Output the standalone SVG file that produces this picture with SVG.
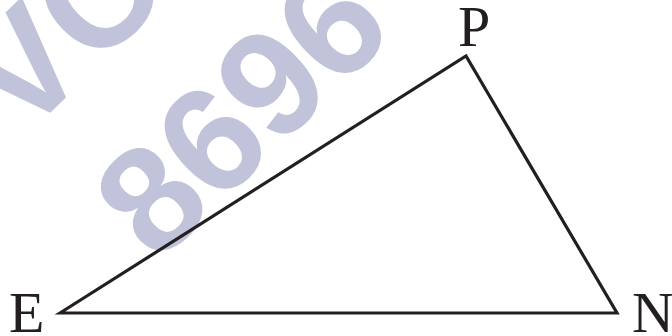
<svg xmlns="http://www.w3.org/2000/svg" width="672" height="336" viewBox="0 0 672 336">
<style>
.wm{font-family:"Liberation Sans",Arial,sans-serif;font-weight:bold;font-size:150px;fill:#c0c3d9}
.lbl{font-family:"Liberation Serif","Times New Roman",serif;font-size:58px;fill:#231f20}
.edge{fill:none;stroke:#231f20;stroke-width:3.2;stroke-linejoin:miter}
</style>
<rect width="672" height="336" fill="#ffffff"/>
<g id="watermark">
<text class="wm" transform="translate(157,265) rotate(-44)">8696</text>
<text class="wm" transform="translate(22,140) rotate(-44)">VC</text>
</g>
<g id="connectors">
<polygon class="edge" points="60,313 466,56 617,313"/>
</g>
<g id="node-P"><text class="lbl" x="458" y="46">P</text></g>
<g id="node-E"><text class="lbl" x="9" y="332">E</text></g>
<g id="node-N"><text class="lbl" x="632" y="332">N</text></g>
</svg>
